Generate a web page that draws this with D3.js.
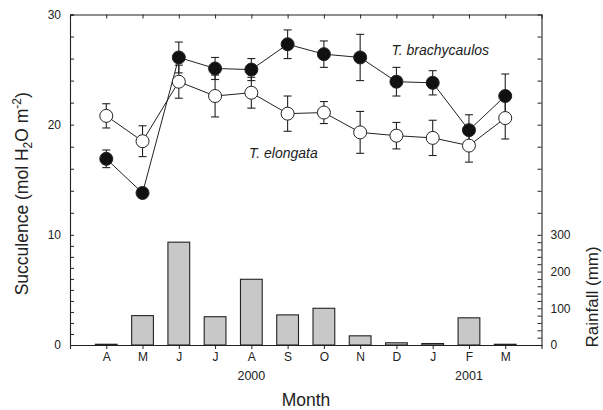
<!DOCTYPE html>
<html>
<head>
<meta charset="utf-8">
<script src="https://cdn.jsdelivr.net/npm/d3@7"></script>
<style>
  body { margin: 0; background: #fff; }
  svg { font-family: "Liberation Sans", Arial, sans-serif; }
</style>
</head>
<body>
<div id="chart"></div>
<script>
// data
const months = ["A", "M", "J", "J", "A", "S", "O", "N", "D", "J", "F", "M"];
const rainfall = [2, 80, 280, 77, 179, 82, 100, 25, 6, 4, 74, 2];
const brachy = [16.9, 13.8, 26.1, 25.1, 25.0, 27.3, 26.4, 26.1, 23.9, 23.8, 19.5, 22.6];
const brachyErr = [0.8, 0.4, 1.4, 1.0, 1.0, 1.3, 1.2, 2.1, 1.3, 1.1, 1.4, 2.0];
const elong = [20.8, 18.5, 23.9, 22.6, 22.9, 21.0, 21.1, 19.3, 19.0, 18.8, 18.1, 20.6];
const elongErr = [1.1, 1.4, 1.5, 1.9, 1.4, 1.6, 1.0, 1.9, 1.2, 1.6, 1.5, 1.9];
const years = [{ label: "2000", at: 4 }, { label: "2001", at: 10 }];

const margin = { top: 14.5, right: 61.5, bottom: 65, left: 70 };
const W = 603, H = 410;
const width = W - margin.left - margin.right;
const height = H - margin.top - margin.bottom;

const svg = d3.select("#chart").append("svg")
  .attr("width", W).attr("height", H);
const g = svg.append("g")
  .attr("transform", `translate(${margin.left},${margin.top})`);

const idx = d3.range(months.length);
const x = d3.scalePoint().domain(idx).range([0, width]).padding(1);
const y = d3.scaleLinear().domain([0, 30]).range([height, 0]);
const yR = d3.scaleLinear().domain([0, 900]).range([height, 0]);
const ink = "#222";
const barW = x.step() * 0.6;

// rainfall bars
g.selectAll(".bar").data(idx).enter().append("rect")
  .attr("class", "bar")
  .attr("x", i => x(i) - barW / 2)
  .attr("width", barW)
  .attr("y", i => yR(rainfall[i]))
  .attr("height", i => height - yR(rainfall[i]))
  .attr("fill", "#c8c8c8")
  .attr("stroke", ink)
  .attr("stroke-width", 1.1);

// axes
const leftTicks = d3.range(0, 10, 1).concat(d3.range(10, 31, 2));
const leftAxis = d3.axisLeft(y).tickValues(leftTicks)
  .tickSize(-4).tickPadding(9)
  .tickFormat(d => d % 10 === 0 ? d : "");
g.append("g").call(leftAxis);

const rightTicks = d3.range(0, 301, 20).concat(d3.range(360, 900, 60));
const rightAxis = d3.axisRight(yR).tickValues(rightTicks)
  .tickSize(-4).tickPadding(9)
  .tickFormat(d => (d % 100 === 0 && d <= 300) ? d : "");
g.append("g").attr("transform", `translate(${width},0)`).call(rightAxis);

const bottomAxis = d3.axisBottom(x).tickSize(4).tickPadding(3)
  .tickFormat(i => months[i]);
g.append("g").attr("transform", `translate(0,${height})`).call(bottomAxis);

const topAxis = d3.axisTop(x).tickSize(-4).tickFormat("");
g.append("g").call(topAxis);

g.selectAll(".domain").attr("stroke", ink).attr("stroke-width", 1.1);
g.selectAll(".tick line").attr("stroke", ink);
g.selectAll(".tick text").attr("font-size", 12).attr("fill", ink)
  .attr("font-family", "Liberation Sans, Arial, sans-serif");

// year labels
g.selectAll(".year").data(years).enter().append("text")
  .attr("x", d => x(d.at))
  .attr("y", height + 35)
  .attr("text-anchor", "middle")
  .attr("font-size", 12.5).attr("fill", ink)
  .text(d => d.label);

// series
const series = [
  { vals: elong, err: elongErr, fill: "#fff" },
  { vals: brachy, err: brachyErr, fill: "#111" }
];
const line = d3.line().x((d, i) => x(i)).y(d => y(d));

series.forEach(s => {
  g.append("path").datum(s.vals)
    .attr("d", line).attr("fill", "none")
    .attr("stroke", ink).attr("stroke-width", 1);
});
series.forEach(s => {
  const eb = g.append("g").attr("stroke", ink).attr("stroke-width", 1.1);
  eb.selectAll(".v").data(idx).enter().append("line")
    .attr("x1", i => x(i)).attr("x2", i => x(i))
    .attr("y1", i => y(s.vals[i] - s.err[i]))
    .attr("y2", i => y(s.vals[i] + s.err[i]));
  [-1, 1].forEach(sign => {
    eb.selectAll(".c" + sign).data(idx).enter().append("line")
      .attr("x1", i => x(i) - 4).attr("x2", i => x(i) + 4)
      .attr("y1", i => y(s.vals[i] + sign * s.err[i]))
      .attr("y2", i => y(s.vals[i] + sign * s.err[i]));
  });
});
series.forEach(s => {
  g.selectAll(null).data(idx).enter().append("circle")
    .attr("cx", i => x(i)).attr("cy", i => y(s.vals[i]))
    .attr("r", 6.5)
    .attr("fill", s.fill)
    .attr("stroke", ink).attr("stroke-width", 1);
});

// species labels
g.append("text")
  .attr("x", 321.5).attr("y", 40.5)
  .attr("font-size", 14).attr("font-style", "italic").attr("fill", ink)
  .text("T. brachycaulos");
g.append("text")
  .attr("x", 179).attr("y", 143.5)
  .attr("font-size", 14).attr("font-style", "italic").attr("fill", ink)
  .text("T. elongata");

// axis titles
const yl = svg.append("text")
  .attr("transform", `translate(28,${margin.top + height / 2 + 14}) rotate(-90)`)
  .attr("text-anchor", "middle")
  .attr("font-size", 17.5).attr("fill", ink);
yl.append("tspan").text("Succulence (mol H");
yl.append("tspan").attr("font-size", 12).attr("dy", 4).text("2");
yl.append("tspan").attr("dy", -4).text("O m");
yl.append("tspan").attr("font-size", 12).attr("dy", -7).text("-2");
yl.append("tspan").attr("dy", 7).text(")");

svg.append("text")
  .attr("transform", `translate(598,${yR(150) + margin.top + 7}) rotate(-90)`)
  .attr("text-anchor", "middle")
  .attr("font-size", 17).attr("fill", ink)
  .text("Rainfall (mm)");

svg.append("text")
  .attr("x", 306).attr("y", 406)
  .attr("text-anchor", "middle")
  .attr("font-size", 17.5).attr("fill", ink)
  .text("Month");
</script>
</body>
</html>
